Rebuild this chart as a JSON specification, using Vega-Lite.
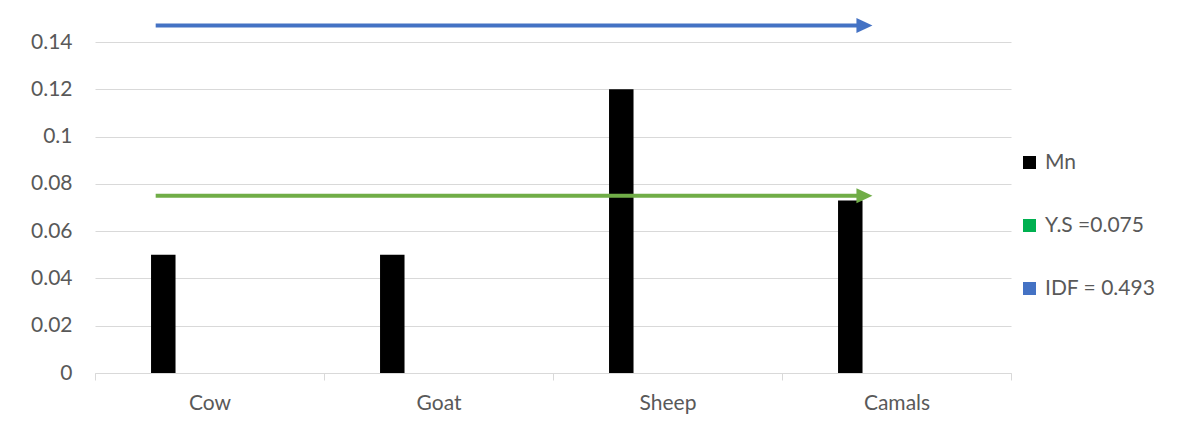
{
  "$schema": "https://vega.github.io/schema/vega-lite/v6.json",
  "autosize": "none",
  "width": 916,
  "height": 331,
  "padding": {"left": 95, "top": 42, "right": 184, "bottom": 54},
  "background": "white",
  "config": {
    "view": {"stroke": null},
    "font": "Lato",
    "axis": {"labelFont": "Lato", "labelFontSize": 21, "labelColor": "#595959"},
    "legend": {"labelFont": "Lato", "labelFontSize": 21, "labelColor": "#595959"}
  },
  "datasets": {
    "animals": [
      {"animal": "Cow", "series": "Mn", "value": 0.05},
      {"animal": "Goat", "series": "Mn", "value": 0.05},
      {"animal": "Sheep", "series": "Mn", "value": 0.12},
      {"animal": "Camals", "series": "Mn", "value": 0.073}
    ],
    "standards": [
      {"standard": "Y.S =0.075", "value": 0.075},
      {"standard": "IDF = 0.493", "value": 0.147}
    ]
  },
  "layer": [
    {
      "data": {"name": "animals"},
      "mark": {"type": "bar", "color": "black"},
      "encoding": {
        "x": {
          "field": "animal",
          "type": "nominal",
          "sort": ["Cow", "Goat", "Sheep", "Camals"],
          "scale": {"paddingInner": 0, "paddingOuter": 0},
          "axis": {
            "title": null,
            "labelAngle": 0,
            "domainColor": "#D9D9D9",
            "tickColor": "#D9D9D9",
            "tickSize": 7,
            "tickBand": "extent",
            "labelPadding": 12,
            "grid": false
          }
        },
        "xOffset": {
          "field": "series",
          "type": "nominal",
          "scale": {"domain": ["Mn", "Y.S =0.075", "IDF = 0.493"], "paddingInner": 0.521, "paddingOuter": 1, "align": 0.548}
        },
        "y": {
          "field": "value",
          "type": "quantitative",
          "scale": {"domain": [0, 0.14], "nice": false},
          "axis": {
            "title": null,
            "values": [0, 0.02, 0.04, 0.06, 0.08, 0.1, 0.12, 0.14],
            "format": "~g",
            "domain": false,
            "ticks": false,
            "tickSize": 0,
            "labelPadding": 23,
            "grid": true,
            "gridColor": "#D9D9D9"
          }
        },
        "color": {
          "field": "series",
          "type": "nominal",
          "scale": {"domain": ["Mn", "Y.S =0.075", "IDF = 0.493"], "range": ["#000000", "#00B050", "#4472C4"]},
          "legend": {
            "title": null,
            "orient": "none",
            "legendX": 924,
            "legendY": 110,
            "symbolType": "square",
            "symbolSize": 169,
            "symbolStrokeWidth": 0,
            "labelOffset": 5,
            "rowPadding": 41
          }
        }
      }
    },
    {
      "data": {"name": "standards"},
      "layer": [
        {
          "mark": {"type": "rule", "strokeWidth": 4},
          "encoding": {
            "x": {"datum": 0.265, "type": "quantitative", "scale": {"domain": [0, 4], "nice": false, "zero": false}, "axis": null},
            "x2": {"datum": 3.36},
            "y": {"field": "value", "type": "quantitative"},
            "color": {"condition": {"test": "datum.standard === 'IDF = 0.493'", "value": "#4472C4"}, "value": "#70AD47"}
          }
        },
        {
          "mark": {"type": "point", "shape": "M-1,-0.94L1,0L-1,0.94Z", "size": 256, "filled": true, "opacity": 1, "strokeWidth": 0},
          "encoding": {
            "x": {"datum": 3.36, "type": "quantitative"},
            "y": {"field": "value", "type": "quantitative"},
            "color": {"condition": {"test": "datum.standard === 'IDF = 0.493'", "value": "#4472C4"}, "value": "#70AD47"}
          }
        }
      ]
    }
  ],
  "resolve": {"scale": {"x": "independent"}}
}
